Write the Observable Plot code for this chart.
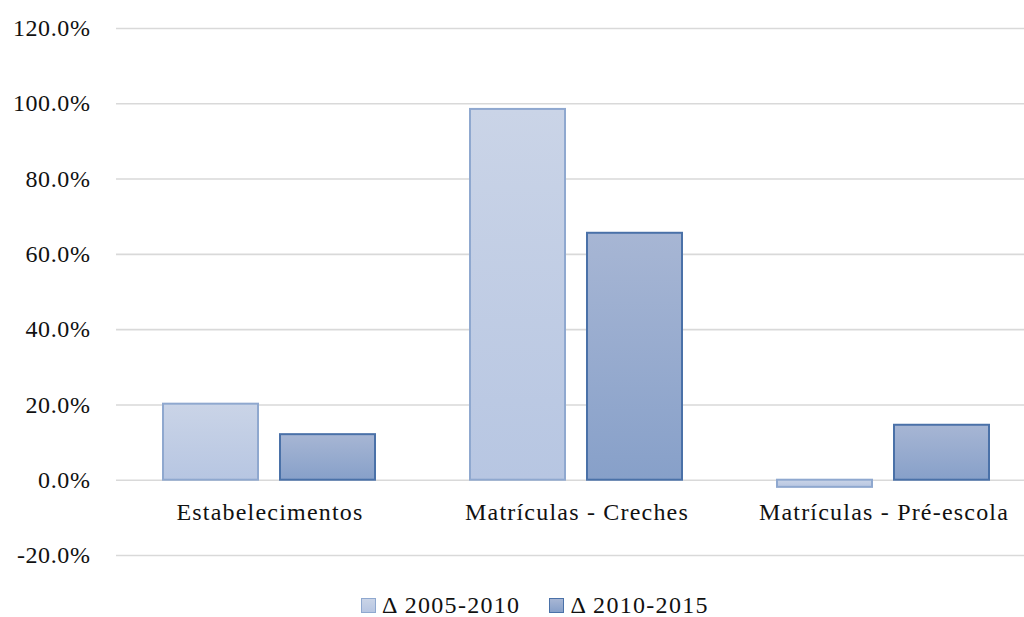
<!DOCTYPE html>
<html>
<head>
<meta charset="utf-8">
<script src="https://cdn.jsdelivr.net/npm/d3@7"></script>
<script src="https://cdn.jsdelivr.net/npm/@observablehq/plot@0.6"></script>
<style>
  html, body { margin: 0; padding: 0; background: #fff; overflow: hidden; }
  #chart svg { display: block; overflow: hidden; }
  #chart svg text { font-family: "Liberation Serif", "Times New Roman", Times, "DejaVu Serif", serif; }
  #chart svg g[aria-label="text"] text { letter-spacing: 1.2px; }
  .legend { display: flex; align-items: center; height: 30px; padding-left: 361px; line-height: 24px;
            font-family: "Liberation Serif", "Times New Roman", Times, "DejaVu Serif", serif; font-size: 24px; color: #111; letter-spacing: 1.3px; }
  .legend .item { display: flex; align-items: center; }
  .legend .sw { width: 13px; height: 13px; margin-right: 6px; box-sizing: content-box; }
  .legend .gap { width: 29px; }
</style>
</head>
<body>
<div id="chart"></div>
<script>
const categories = ["Estabelecimentos", "Matrículas - Creches", "Matrículas - Pré-escola"];
const series = ["Δ 2005-2010", "Δ 2010-2015"];
const values2005_2010 = [20.2, 98.5, -1.9];
const values2010_2015 = [12.1, 65.6, 14.6];
const yTicks = [-20, 0, 20, 40, 60, 80, 100, 120];

const seriesStyle = [
  {grad: "gradA", top: "#CAD4E7", bottom: "#B7C6E2", stroke: "#8FA8CF"},
  {grad: "gradB", top: "#A7B6D4", bottom: "#87A0C9", stroke: "#4A71A8"}
];

const data = categories.flatMap((c, i) => [
  {category: c, series: series[0], value: values2005_2010[i]},
  {category: c, series: series[1], value: values2010_2015[i]}
]);

const font = '"Liberation Serif", "Times New Roman", Times, "DejaVu Serif", serif';

const svg = Plot.plot({
  width: 1024,
  height: 590,
  marginTop: 28,
  marginBottom: 35,
  marginLeft: 115,
  marginRight: -14,
  style: {fontFamily: font, fontSize: "24px", color: "#111", background: "#fff", letterSpacing: "0.6px"},
  fx: {domain: categories, padding: 0, axis: null},
  x: {domain: series, paddingInner: 0.1864, paddingOuter: 0.397, axis: null},
  y: {domain: [-20, 120], ticks: yTicks, tickFormat: d => d.toFixed(1) + "%", tickSize: 0, tickPadding: 26, label: null},
  marks: [
    Plot.ruleY(yTicks, {stroke: "#d9d9d9", strokeWidth: 1.6}),
    ...series.map((s, k) => Plot.barY(data.filter(d => d.series === s), {
      fx: "category", x: "series", y: "value",
      fill: `url(#${seriesStyle[k].grad})`,
      stroke: seriesStyle[k].stroke, strokeWidth: 2
    })),
    Plot.text(categories, {fx: d => d, y: d => 0, text: d => d, dy: 32, fill: "#111"})
  ]
});

const NS = "http://www.w3.org/2000/svg";
const defs = document.createElementNS(NS, "defs");
seriesStyle.forEach(st => {
  const g = document.createElementNS(NS, "linearGradient");
  g.setAttribute("id", st.grad);
  g.setAttribute("x1", "0"); g.setAttribute("y1", "0");
  g.setAttribute("x2", "0"); g.setAttribute("y2", "1");
  [[0, st.top], [1, st.bottom]].forEach(([o, c]) => {
    const stop = document.createElementNS(NS, "stop");
    stop.setAttribute("offset", o);
    stop.setAttribute("stop-color", c);
    g.appendChild(stop);
  });
  defs.appendChild(g);
});
svg.insertBefore(defs, svg.firstChild);

document.getElementById("chart").appendChild(svg);

const legend = document.createElement("div");
legend.className = "legend";
series.forEach((s, k) => {
  if (k > 0) { const gap = document.createElement("div"); gap.className = "gap"; legend.appendChild(gap); }
  const item = document.createElement("div");
  item.className = "item";
  const sw = document.createElement("div");
  sw.className = "sw";
  sw.style.background = `linear-gradient(${seriesStyle[k].top}, ${seriesStyle[k].bottom})`;
  sw.style.border = `1.5px solid ${seriesStyle[k].stroke}`;
  const label = document.createElement("span");
  label.textContent = s;
  item.appendChild(sw);
  item.appendChild(label);
  legend.appendChild(item);
});
document.body.appendChild(legend);
</script>
</body>
</html>
